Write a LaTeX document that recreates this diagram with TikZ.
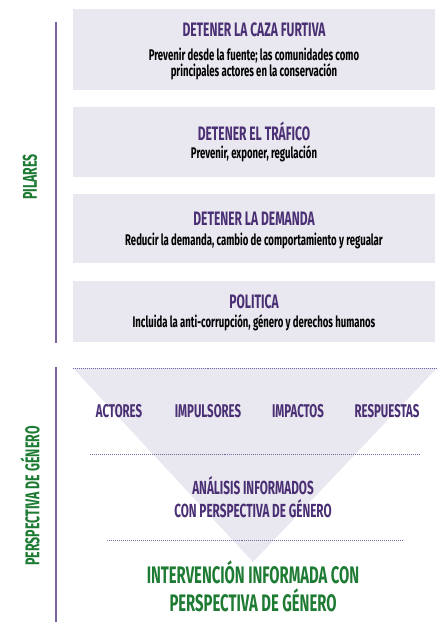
\documentclass[tikz,border=0pt]{standalone}
\usepackage{fontspec}
\setmainfont{Fira Sans}[FakeStretch=0.62]
\usetikzlibrary{positioning}

\definecolor{pilarFill}{HTML}{E9E7EF}
\definecolor{morado}{HTML}{4A2F74}
\definecolor{verde}{HTML}{1E7B33}
\definecolor{lineaMorada}{HTML}{7B64A3}

\tikzset{
	pilar/.style = {fill = pilarFill, minimum width = 362bp, inner sep = 0pt, anchor = north west},
	titulo/.style = {text = morado, font = \bfseries\fontsize{19.5}{23}\selectfont},
	etiqueta/.style = {text = morado, font = \bfseries\fontsize{18.5}{23}\selectfont},
	cuerpo/.style = {text = black, font = \bfseries\fontsize{15.5}{16.5}\selectfont, align = center},
	eje/.style = {text = verde, font = \bfseries\fontsize{20}{24}\selectfont, rotate = 90},
	puntos/.style = {draw = lineaMorada, line width = 1pt, dash pattern = on 0.6pt off 1.4pt}
}

\begin{document}
\begin{tikzpicture}[x = 1bp, y = -1bp]
	\useasboundingbox (0,0) rectangle (440,622);
	\def\xc{254};

	\begin{scope}
		\node [pilar, minimum height = 81bp] (caza) at (73,9) {};
		\node [pilar, minimum height = 70bp] (trafico) at (73,107) {};
		\node [pilar, minimum height = 69bp] (demanda) at (73,194) {};
		\node [pilar, minimum height = 61bp] (politica) at (73,281) {};
	\end{scope}

	\begin{scope}
		\node [titulo] (cazaT) at (\xc,30) {DETENER LA CAZA FURTIVA};
		\node [cuerpo] (cazaC) at (\xc,64) {Prevenir desde la fuente; las comunidades como\\principales actores en la conservación};
		\node [titulo] (traficoT) at (\xc,131) {DETENER EL TRÁFICO};
		\node [cuerpo] (traficoC) at (\xc,154) {Prevenir, exponer, regulación};
		\node [titulo] (demandaT) at (\xc,219) {DETENER LA DEMANDA};
		\node [cuerpo] (demandaC) at (\xc,241) {Reducir la demanda, cambio de comportamiento y regualar};
		\node [titulo] (politicaT) at (\xc,302) {POLITICA};
		\node [cuerpo] (politicaC) at (\xc,323) {Incluida la anti-corrupción, género y derechos humanos};
	\end{scope}

	\begin{scope}[lineaMorada, line width = 1.2pt]
		\coordinate (pilA) at (56,22);
		\coordinate (pilB) at (56,343);
		\coordinate (genA) at (56,367);
		\coordinate (genB) at (56,622);
		\draw (pilA) -- (pilB);
		\draw (genA) -- (genB);
		\node [eje] (pilares) at (30,177) {PILARES};
		\node [eje] (genero) at (30,496) {PERSPECTIVA DE GÉNERO};
	\end{scope}

	\begin{scope}
		\coordinate (triL) at (73,368);
		\coordinate (triR) at (437,368);
		\coordinate (triV) at (253,562);
		\fill [pilarFill] (triL) -- (triR) -- (triV) -- cycle;
		\draw [puntos] (triL) -- (triR);
		\draw [puntos] (90,454) -- (420,454);
		\draw [puntos] (107,540) -- (402,540);
	\end{scope}

	\begin{scope}
		\node [etiqueta] (actores) at (119,411) {ACTORES};
		\node [etiqueta] (impulsores) at (208,411) {IMPULSORES};
		\node [etiqueta] (impactos) at (298,411) {IMPACTOS};
		\node [etiqueta] (respuestas) at (387,411) {RESPUESTAS};
		\node [titulo, align = center, font = \bfseries\fontsize{19}{23}\selectfont] (analisis) at (253,497) {ANÁLISIS INFORMADOS\\CON PERSPECTIVA DE GÉNERO};
		\node [titulo, text = verde, align = center, font = \bfseries\fontsize{24}{28}\selectfont] (intervencion) at (253,586) {INTERVENCIÓN INFORMADA CON\\PERSPECTIVA DE GÉNERO};
	\end{scope}
\end{tikzpicture}
\end{document}
